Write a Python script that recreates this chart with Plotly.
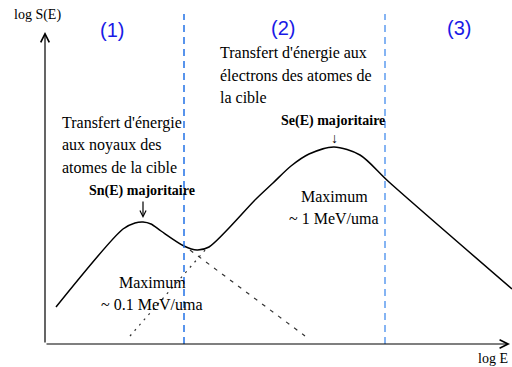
import plotly.graph_objects as go

##========[ DATA ]========##
# curve log S(E) vs log E (arbitrary units)
curve_x = [11, 78, 90, 98, 106, 116, 139, 152, 164, 211, 228, 246, 264, 289, 315, 344, 467]
curve_y = [37, 115, 121, 122, 120, 113, 98, 94, 97, 145, 161, 178, 190, 197, 189, 162, 55]

# dotted extrapolations
se_dot_x = [85, 162]
se_dot_y = [8, 96]
sn_dot_x = [145, 260]
sn_dot_y = [94, 8]

# region boundaries and labels
bounds_x = [139, 340]
region_labels = ["(1)", "(2)", "(3)"]
region_x = [67, 238, 414]
region_y = [314, 316, 316]

text_left = ["Transfert d'énergie", "aux noyaux des", "atomes de la cible"]
text_right = ["Transfert d'énergie aux", "électrons des atomes de", "la cible"]

##========[ STYLE ]========##
SERIF = "Liberation Serif"
SANS = "Liberation Sans"
BOUND_COLORS = ["#2272e6", "#5e9cf0"]

fig = go.Figure()

# main curve
fig.add_trace(go.Scatter(x=curve_x, y=curve_y, mode="lines",
                         line=dict(color="black", width=1.5, shape="spline", smoothing=0.8),
                         hoverinfo="skip"))
# dotted extensions
fig.add_trace(go.Scatter(x=se_dot_x, y=se_dot_y, mode="lines",
                         line=dict(color="#333333", width=1.2, dash="2px,5px"), hoverinfo="skip"))
fig.add_trace(go.Scatter(x=sn_dot_x, y=sn_dot_y, mode="lines",
                         line=dict(color="#333333", width=1.2, dash="4px,6px"), hoverinfo="skip"))

# blue dashed region lines
for bx, bc in zip(bounds_x, BOUND_COLORS):
    fig.add_shape(type="line", x0=bx, x1=bx, y0=0, y1=330,
                  line=dict(color=bc, width=1.5, dash="7px,5px"))

# axes with open arrow heads
fig.add_annotation(x=465, y=0, ax=0, ay=0, axref="x", ayref="y", text="",
                   showarrow=True, arrowhead=5, arrowsize=1.4, arrowwidth=1.2, arrowcolor="black")
fig.add_annotation(x=0, y=312, ax=0, ay=0, axref="x", ayref="y", text="",
                   showarrow=True, arrowhead=5, arrowsize=1.4, arrowwidth=1.2, arrowcolor="black")

# axis titles (paper coords, outside the data range)
fig.add_annotation(xref="paper", yref="paper", x=-8 / 467, y=329 / 344, text="log S(E)",
                   xanchor="center", yanchor="middle",
                   showarrow=False, font=dict(family=SERIF, size=14, color="black"))
fig.add_annotation(xref="paper", yref="paper", x=448 / 467, y=-14 / 344, text="log E",
                   xanchor="center", yanchor="middle",
                   showarrow=False, font=dict(family=SERIF, size=14, color="black"))

# region labels
for lbl, rx, ry in zip(region_labels, region_x, region_y):
    fig.add_annotation(x=rx, y=ry, text=lbl, showarrow=False,
                       font=dict(family=SANS, size=20, color="#1a1ae6"))

# descriptive texts
for i, t in enumerate(text_left):
    fig.add_annotation(x=15, y=221 - 22 * i, text=t, showarrow=False, xanchor="left",
                       font=dict(family=SERIF, size=16, color="black"))
for i, t in enumerate(text_right):
    fig.add_annotation(x=173, y=291 - 22 * i, text=t, showarrow=False, xanchor="left",
                       font=dict(family=SERIF, size=16, color="black"))

# majoritaire labels
fig.add_annotation(x=288, y=223, text="<b>Se(E) majoritaire</b>", showarrow=False,
                   font=dict(family=SERIF, size=14, color="black"))
fig.add_annotation(x=289, y=206, text="↓", showarrow=False,
                   font=dict(family=SERIF, size=14, color="black"))
fig.add_annotation(x=97, y=153, text="<b>Sn(E) majoritaire</b>", showarrow=False,
                   font=dict(family=SERIF, size=14, color="black"))
fig.add_annotation(x=98, y=126, ax=98, ay=144, axref="x", ayref="y", text="",
                   showarrow=True, arrowhead=5, arrowsize=1, arrowwidth=1.2, arrowcolor="black")

# maxima
fig.add_annotation(x=107, y=62, text="Maximum", showarrow=False,
                   font=dict(family=SERIF, size=16, color="black"))
fig.add_annotation(x=107, y=40, text="~ 0.1 MeV/uma", showarrow=False,
                   font=dict(family=SERIF, size=16, color="black"))
fig.add_annotation(x=289, y=148, text="Maximum", showarrow=False,
                   font=dict(family=SERIF, size=16, color="black"))
fig.add_annotation(x=289, y=126, text="~ 1 MeV/uma", showarrow=False,
                   font=dict(family=SERIF, size=16, color="black"))

fig.update_layout(width=512, height=367, margin=dict(l=45, r=0, t=0, b=23),
                  plot_bgcolor="white", paper_bgcolor="white", showlegend=False)
fig.update_xaxes(range=[0, 467], visible=False)
fig.update_yaxes(range=[0, 344], visible=False)

# drop the default page margin so the figure sits at the window origin
fig.write_html("out.html", config={"displayModeBar": False},
               post_script="document.body.style.margin='0';")
